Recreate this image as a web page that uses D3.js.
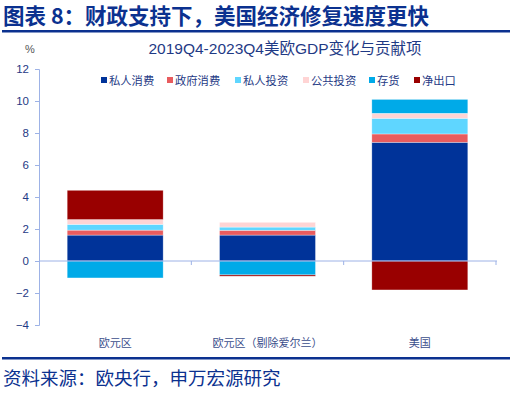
<!DOCTYPE html>
<html>
<head>
<meta charset="utf-8">
<script src="https://cdn.jsdelivr.net/npm/d3@7"></script>
<style>
  body { margin: 0; background: #fff; }
  svg { display: block; font-family: "Liberation Sans", "Noto Sans CJK SC", sans-serif; }
</style>
</head>
<body>
<div id="chart"></div>
<script>
// data (percent, 2019Q4-2023Q4)
var categories = ["欧元区", "欧元区（剔除爱尔兰）", "美国"];
var seriesNames = ["私人消费", "政府消费", "私人投资", "公共投资", "存货", "净出口"];
var privateConsumption = [1.62, 1.62, 7.42];
var govConsumption = [0.31, 0.30, 0.52];
var privateInvestment = [0.36, 0.20, 0.98];
var publicInvestment = [0.30, 0.30, 0.31];
var inventory = [-1.06, -0.87, 0.87];
var netExports = [1.83, -0.08, -1.81];
var yTicks = [-4, -2, 0, 2, 4, 6, 8, 10, 12];

var colors = ["#003399", "#E85C5E", "#5FD6FF", "#FFD4D4", "#00AAE8", "#990000"];
var seriesValues = [privateConsumption, govConsumption, privateInvestment, publicInvestment, inventory, netExports];

var rows = categories.map(function(c, i) {
  var r = {name: c};
  seriesNames.forEach(function(s, j) { r[s] = seriesValues[j][i]; });
  return r;
});

var W = 515, H = 396;
var textCol = "#1F3A85";
var axisCol = "#9DB2E6";

var svg = d3.select("#chart").append("svg")
    .attr("width", W)
    .attr("height", H);

// header
svg.append("text")
    .attr("x", 3).attr("y", 24)
    .attr("font-size", 21.5)
    .attr("font-weight", "bold")
    .attr("fill", "#0B318F")
    .attr("font-family", "'Noto Sans CJK SC', sans-serif")
    .text("图表 8：财政支持下，美国经济修复速度更快");
svg.append("rect").attr("x", 2).attr("y", 30).attr("width", 508).attr("height", 2.5).attr("fill", "#0B318F");

// chart title
svg.append("text")
    .attr("x", 285).attr("y", 54)
    .attr("text-anchor", "middle")
    .attr("font-size", 15.5)
    .attr("fill", textCol)
    .text("2019Q4-2023Q4美欧GDP变化与贡献项");

svg.append("text")
    .attr("x", 30).attr("y", 53)
    .attr("text-anchor", "middle")
    .attr("font-size", 11)
    .attr("fill", "#555")
    .text("%");

// scales
var y = d3.scaleLinear().domain([-4, 12]).range([325, 69]);
var x = d3.scaleBand().domain(categories).range([39, 496])
    .paddingInner(0.37).paddingOuter(0.185);

// y axis
var yAxis = d3.axisLeft(y).tickValues(yTicks).tickSize(4).tickPadding(6);
var gy = svg.append("g").attr("transform", "translate(39,0)").call(yAxis);
gy.select(".domain").attr("stroke", axisCol);
gy.selectAll(".tick line").attr("stroke", axisCol);
gy.selectAll(".tick text")
    .attr("fill", textCol)
    .attr("font-size", 11.5)
    .attr("font-family", "'Liberation Sans', sans-serif");

// stacked bars
var stack = d3.stack().keys(seriesNames).offset(d3.stackOffsetDiverging);
var layers = stack(rows);

svg.append("g").selectAll("g")
    .data(layers)
  .enter().append("g")
    .attr("fill", function(d, i) { return colors[i]; })
  .selectAll("rect")
    .data(function(d) { return d; })
  .enter().append("rect")
    .attr("x", function(d) { return x(d.data.name); })
    .attr("width", x.bandwidth())
    .attr("y", function(d) { return y(Math.max(d[0], d[1])); })
    .attr("height", function(d) { return Math.abs(y(d[0]) - y(d[1])); })
    .attr("stroke", "#fff")
    .attr("stroke-opacity", 0.55)
    .attr("stroke-width", 0.6);

// zero line with category ticks
svg.append("line")
    .attr("x1", 39).attr("x2", 497)
    .attr("y1", y(0)).attr("y2", y(0))
    .attr("stroke", axisCol).attr("stroke-width", 1);
svg.append("g").selectAll("line")
    .data(d3.range(1, categories.length + 1))
  .enter().append("line")
    .attr("x1", function(i) { return 39 + i * x.step(); })
    .attr("x2", function(i) { return 39 + i * x.step(); })
    .attr("y1", y(0)).attr("y2", y(0) + 4)
    .attr("stroke", axisCol);

// category labels
svg.append("g").selectAll("text")
    .data(categories)
  .enter().append("text")
    .attr("x", function(d) { return x(d) + x.bandwidth() / 2; })
    .attr("y", 347)
    .attr("text-anchor", "middle")
    .attr("font-size", 11)
    .attr("fill", "#3B4E8C")
    .text(function(d) { return d; });

// legend
var legendX = [101, 167, 235, 303, 369, 414];
var lg = svg.append("g").selectAll("g")
    .data(seriesNames)
  .enter().append("g")
    .attr("transform", function(d, i) { return "translate(" + legendX[i] + ",80)"; });
lg.append("rect")
    .attr("x", 0).attr("y", -3)
    .attr("width", 6).attr("height", 6)
    .attr("fill", function(d, i) { return colors[i]; });
lg.append("text")
    .attr("x", 8).attr("y", 4.5)
    .attr("font-size", 11.3)
    .attr("fill", textCol)
    .text(function(d) { return d; });

// footer
svg.append("rect").attr("x", 2).attr("y", 357).attr("width", 508).attr("height", 2.5).attr("fill", "#0B318F");
svg.append("text")
    .attr("x", 3).attr("y", 385)
    .attr("font-size", 18.5)
    .attr("fill", "#0B318F")
    .attr("font-family", "'Noto Sans CJK SC', sans-serif")
    .text("资料来源：欧央行，申万宏源研究");
</script>
</body>
</html>
